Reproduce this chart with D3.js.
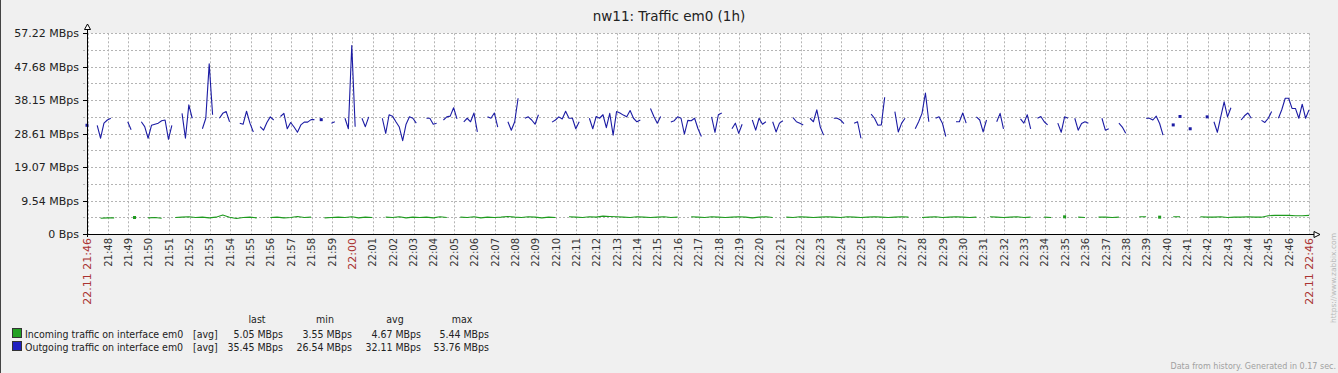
<!DOCTYPE html>
<html>
<head>
<meta charset="utf-8">
<script src="https://cdn.jsdelivr.net/npm/d3@7"></script>
<style>
  body { margin: 0; background: #f0f0f0; }
  svg { display: block; font-family: "DejaVu Sans", sans-serif; }
</style>
</head>
<body>
<svg id="chart" width="1338" height="373"></svg>
<script>
const title = "nw11: Traffic em0 (1h)";
const startTime = new Date(2023, 10, 22, 21, 46, 58);
const endTime = new Date(2023, 10, 22, 22, 46, 58);
const datePrefix = "22.11";

// outgoing traffic, MBps, one value every 10 s (null = no data)
const outStepSec = 10;
const outgoing = [
  31, null, null, 31, 27.3, 31.6, 32.5, 33, null, null,
  null, null, 32, 29.7, null, null, 32, 30.6, 27.3, 31,
  31.3, 31.6, 32.3, 32.5, 27, 31, null, null, 34.4, 27.3,
  36.8, 33, null, null, 30, 33, 48.5, 34, null, 33,
  34.4, 34.9, 32, null, null, 31.6, 31.3, 35, 31.6, 29.1,
  null, 30.6, 29.6, 31.8, 33.4, 32.5, null, 33.5, 34.4, 30,
  31.8, 30.5, 29, 31.1, 31.9, 31.9, 32.6, 32.6, null, 32.6,
  null, null, 31.6, 32, null, null, 33, 30, 53.76, 30.6,
  null, 33, 30.6, 33.4, null, null, null, 33, 28.7, 34,
  33.6, 32, 30.5, 26.6, 31.3, 33.4, 33, 31.6, null, null,
  33, 33, 31.3, 31.6, null, 32.5, 33.4, 33.6, 36, 32.8,
  null, 32, 33, 32, 34.5, 29.1, null, null, 33.4, 33,
  34.5, 30.5, null, null, 32, 29.6, 32, 38.7, null, 33,
  33.4, 32.5, 31.3, 34, null, null, null, 31.9, 32.5, 33.4,
  32.8, 35, 33, 33, 30, 32, null, null, 33, 30,
  33.5, 33, 34, 30.3, 34.4, 28.2, 34.9, 34.5, 33.9, 33.4,
  35.2, 33, 32, 32.5, null, null, 35.8, 33.5, 31.6, 33.5,
  null, null, 31.9, 32.3, 33.4, 33, 28.5, 32.4, 32.3, 33,
  30, 27.8, null, null, 33.4, 29, 34, 34.5, null, null,
  30, 31.6, 28.7, 31.3, null, null, 32.5, 29.6, 33, 31.3,
  32, null, 32, 29.1, 31.6, 32.3, null, null, 33.2, 32,
  31.6, 31.1, null, 33, 32, 35.4, 30.6, 28.2, null, null,
  33, 33, 32.5, 31.5, null, null, 31.6, 32, 27.3, null,
  null, 34.2, 33, 31, 31.1, 39, null, null, 34.9, 29.1,
  31.6, 33, null, null, 30, 32, 34.4, 40.2, 32, null,
  33, 33.4, 31.6, 27.8, null, null, 32, 32, 34.5, 31.6,
  null, null, 33.4, 32.5, 29.1, 32.5, null, null, 32, 34.4,
  30, null, null, null, null, 32.8, 31.6, 34, 30, null,
  33, 33.5, 32, 31.1, null, null, 31.6, 29, 33.4, 33,
  null, 33, 29.6, 31.5, 32, 31.6, null, null, null, 33,
  29.6, 30, null, null, 31.6, 30.5, 28.7, null, null, null,
  null, null, 33, 33, 32.5, 33.6, 31.5, 28.2, null, null,
  31.1, null, 33.5, null, null, 30, null, null, null, null,
  33.4, null, 32, 29, 33.4, 37.7, 33.4, 36, null, null,
  32.5, 33.7, 34.5, 33, null, null, 32.4, 31.8, 33, 34.9,
  null, 33, 35.5, 38.7, 38.7, 35.8, 35.8, 33, 37, 33,
  35.4
];

// incoming traffic, MBps, one value every 20 s
const inStepSec = 20;
const incoming = [
  null, null, 4.5, 4.6, 4.6, null, null, 4.7, null, 4.6, 4.7, 4.5, null, 4.7, 4.8,
  4.9, 4.7, 4.8, 4.6, 4.8, 5.4, 4.8, 4.4, 4.7, 4.8, 4.6, null, 4.7, 4.8, 4.6,
  4.7, 5.0, 4.7, 4.8, null, 4.6, 4.7, 4.8, 4.7, 4.9, 4.6, 4.8, 4.7, null, 4.8,
  4.7, 4.9, 4.6, 4.8, 4.7, 4.8, 4.6, 4.9, 4.7, null, 4.8, 4.7, 4.9, 4.6, 4.8,
  4.7, 4.8, 5.0, 4.8, 4.7, 4.9, 4.8, 4.6, 4.8, 4.7, null, 4.9, 4.8, 4.7, 4.9,
  4.8, 5.1, 5.0, 4.9, 4.8, 4.7, 4.9, 4.8, 4.7, 4.8, 4.9, 4.7, 4.8, null, 4.9,
  4.8, 4.7, 4.9, 4.8, 4.7, 4.8, 4.9, 4.8, 4.6, 4.8, 4.9, 4.7, null, 4.8, 4.7,
  4.9, 4.8, 4.7, 4.8, 4.9, 4.8, 4.7, 4.9, 4.8, 4.7, 4.8, 4.9, 4.8, 4.7, 4.8,
  4.9, 4.8, null, 4.7, 4.8, 4.9, 4.7, 4.8, 4.9, 4.8, 4.7, 4.8, null, 4.9, 4.8,
  4.7, 4.8, 4.9, 4.7, 4.8, null, 4.8, 4.7, null, 4.9, null, 4.8, 4.7, null, 4.8,
  4.8, 4.7, 4.8, null, null, 4.9, 4.9, null, 4.8, null, 4.9, 4.9, null, null, 4.9,
  4.8, 4.8, 4.9, 4.7, 4.8, 4.8, 4.9, 4.8, 4.8, 5.2, 5.3, 5.3, 5.3, 5.2, 5.2, 5.3
];

const yMax = 57.22;
const yTickValues = [0, 9.54, 19.07, 28.61, 38.15, 47.68, 57.22];
const yTickLabels = ["0 Bps", "9.54 MBps", "19.07 MBps", "28.61 MBps", "38.15 MBps", "47.68 MBps", "57.22 MBps"];

const legendNames = ["Incoming traffic on interface em0", "Outgoing traffic on interface em0"];
const legendFunc = ["[avg]", "[avg]"];
const legendHeaders = ["last", "min", "avg", "max"];
const legendStats = [
  ["5.05 MBps", "3.55 MBps", "4.67 MBps", "5.44 MBps"],
  ["35.45 MBps", "26.54 MBps", "32.11 MBps", "53.76 MBps"]
];
const lineColors = ["#1e9a1e", "#1c1ca4"];
const boxColors = ["#22a022", "#2020c0"];

const footer = "Data from history. Generated in 0.17 sec.";
const sideUrl = "https://www.zabbix.com";

const svg = d3.select("#chart");
const plotLeft = 87, plotRight = 1309, plotTop = 33.3, plotBottom = 234;

const x = d3.scaleTime().domain([startTime, endTime]).range([plotLeft, plotRight]);
const y = d3.scaleLinear().domain([0, yMax]).range([plotBottom, plotTop]);

// background and frame
svg.append("rect").attr("width", 1338).attr("height", 373).attr("fill", "#f0f0f0");
svg.append("line").attr("x1", 0.5).attr("x2", 0.5).attr("y1", 0).attr("y2", 373)
  .attr("stroke", "#444").attr("stroke-width", 1);
svg.append("rect").attr("x", plotLeft).attr("y", plotTop)
  .attr("width", plotRight - plotLeft).attr("height", plotBottom - plotTop)
  .attr("fill", "#fff");

svg.append("text").attr("x", 669).attr("y", 21).attr("text-anchor", "middle")
  .attr("font-size", 13.5).attr("fill", "#222").text(title);

// grid
const grid = svg.append("g").attr("stroke", "#b4b4b4").attr("stroke-dasharray", "2,2").attr("stroke-width", 1);
const hGrid = d3.range(0, 13).map(k => yMax * k / 12);
grid.selectAll(".h").data(hGrid).enter().append("line")
  .attr("x1", plotLeft - 4).attr("x2", plotRight)
  .attr("y1", d => Math.round(y(d)) + 0.5).attr("y2", d => Math.round(y(d)) + 0.5);
const minutes = d3.timeMinute.range(startTime, endTime);
grid.selectAll(".v").data(minutes.concat([endTime])).enter().append("line")
  .attr("y1", plotTop).attr("y2", plotBottom)
  .attr("x1", d => Math.round(x(d)) + 0.5).attr("x2", d => Math.round(x(d)) + 0.5);

// y labels + ticks
const yl = svg.append("g");
yTickValues.forEach((v, i) => {
  yl.append("text").attr("x", 79).attr("y", y(v) + 4).attr("text-anchor", "end")
    .attr("font-size", 11).attr("fill", "#222").text(yTickLabels[i]);
  yl.append("line").attr("x1", plotLeft - 4).attr("x2", plotLeft)
    .attr("y1", Math.round(y(v)) + 0.5).attr("y2", Math.round(y(v)) + 0.5).attr("stroke", "#000");
});

// x labels
const fmt = d3.timeFormat("%H:%M");
const xl = svg.append("g");
function vLabel(t, text, color, size) {
  const px = x(t) + 3.5;
  xl.append("text").attr("transform", `translate(${px},238) rotate(-90)`)
    .attr("text-anchor", "end").attr("font-size", size).attr("fill", color).text(text);
}
minutes.forEach(m => {
  if (x(m) - plotLeft < 10) return;
  const isHour = m.getMinutes() === 0;
  vLabel(m, fmt(m), isHour ? "#a33" : "#333", isHour ? 11 : 10);
});
vLabel(startTime, datePrefix + " " + fmt(startTime), "#a33", 11);
vLabel(endTime, datePrefix + " " + fmt(endTime), "#a33", 11);

// series
function toPoints(values, step) {
  return values.map((v, i) => ({ t: new Date(+startTime + i * step * 1000), v }));
}
function drawSeries(values, step, color) {
  const pts = toPoints(values, step);
  const line = d3.line().defined(d => d.v != null).x(d => x(d.t)).y(d => y(d.v));
  svg.append("path").datum(pts).attr("d", line).attr("fill", "none")
    .attr("stroke", color).attr("stroke-width", 1.1).attr("stroke-linejoin", "round");
  const lone = pts.filter((d, i) => d.v != null &&
    (i === 0 || pts[i - 1].v == null) && (i === pts.length - 1 || pts[i + 1].v == null));
  svg.append("g").selectAll("rect").data(lone).enter().append("rect")
    .attr("x", d => x(d.t) - 1.5).attr("y", d => y(d.v) - 1.5)
    .attr("width", 3).attr("height", 3).attr("fill", color);
}
drawSeries(incoming, inStepSec, lineColors[0]);
drawSeries(outgoing, outStepSec, lineColors[1]);

// axes with arrows
const ax = svg.append("g").attr("stroke", "#000").attr("stroke-width", 1);
ax.append("line").attr("x1", plotLeft + 0.5).attr("x2", plotLeft + 0.5).attr("y1", 29).attr("y2", plotBottom + 3);
ax.append("line").attr("x1", plotLeft - 4).attr("x2", 1314).attr("y1", plotBottom + 0.5).attr("y2", plotBottom + 0.5);
ax.append("path").attr("d", `M${plotLeft + 0.5},24 L${plotLeft + 3.5},29.5 L${plotLeft - 2.5},29.5 Z`).attr("fill", "#fff");
ax.append("path").attr("d", `M1320,${plotBottom + 0.5} L1314,${plotBottom - 2.5} L1314,${plotBottom + 3.5} Z`).attr("fill", "#fff");

// legend
const lg = svg.append("g").attr("font-size", 10.5).attr("fill", "#222")
  .style("font-family", "'DejaVu Sans Condensed', 'Liberation Sans', sans-serif");
const colRight = [283, 352, 421, 489];
const colCenter = [257, 325, 395, 462];
legendHeaders.forEach((h, i) => {
  lg.append("text").attr("x", colCenter[i]).attr("y", 323).attr("text-anchor", "middle").text(h);
});
legendNames.forEach((name, r) => {
  const yy = 338 + r * 13;
  lg.append("rect").attr("x", 12.5).attr("y", yy - 9.5).attr("width", 9).attr("height", 9)
    .attr("fill", boxColors[r]).attr("stroke", "#333").attr("stroke-width", 1);
  lg.append("text").attr("x", 25).attr("y", yy).text(name);
  lg.append("text").attr("x", 193).attr("y", yy).text(legendFunc[r]);
  legendStats[r].forEach((s, c) => {
    lg.append("text").attr("x", colRight[c]).attr("y", yy).attr("text-anchor", "end").text(s);
  });
});

// footer texts
svg.append("text").attr("x", 1336).attr("y", 369).attr("text-anchor", "end")
  .attr("font-size", 8).attr("fill", "#a0a0a0").text(footer);
svg.append("text").attr("transform", "translate(1335.5,323) rotate(-90)")
  .attr("font-size", 7.5).attr("fill", "#b8b8b8").text(sideUrl);
</script>
</body>
</html>
